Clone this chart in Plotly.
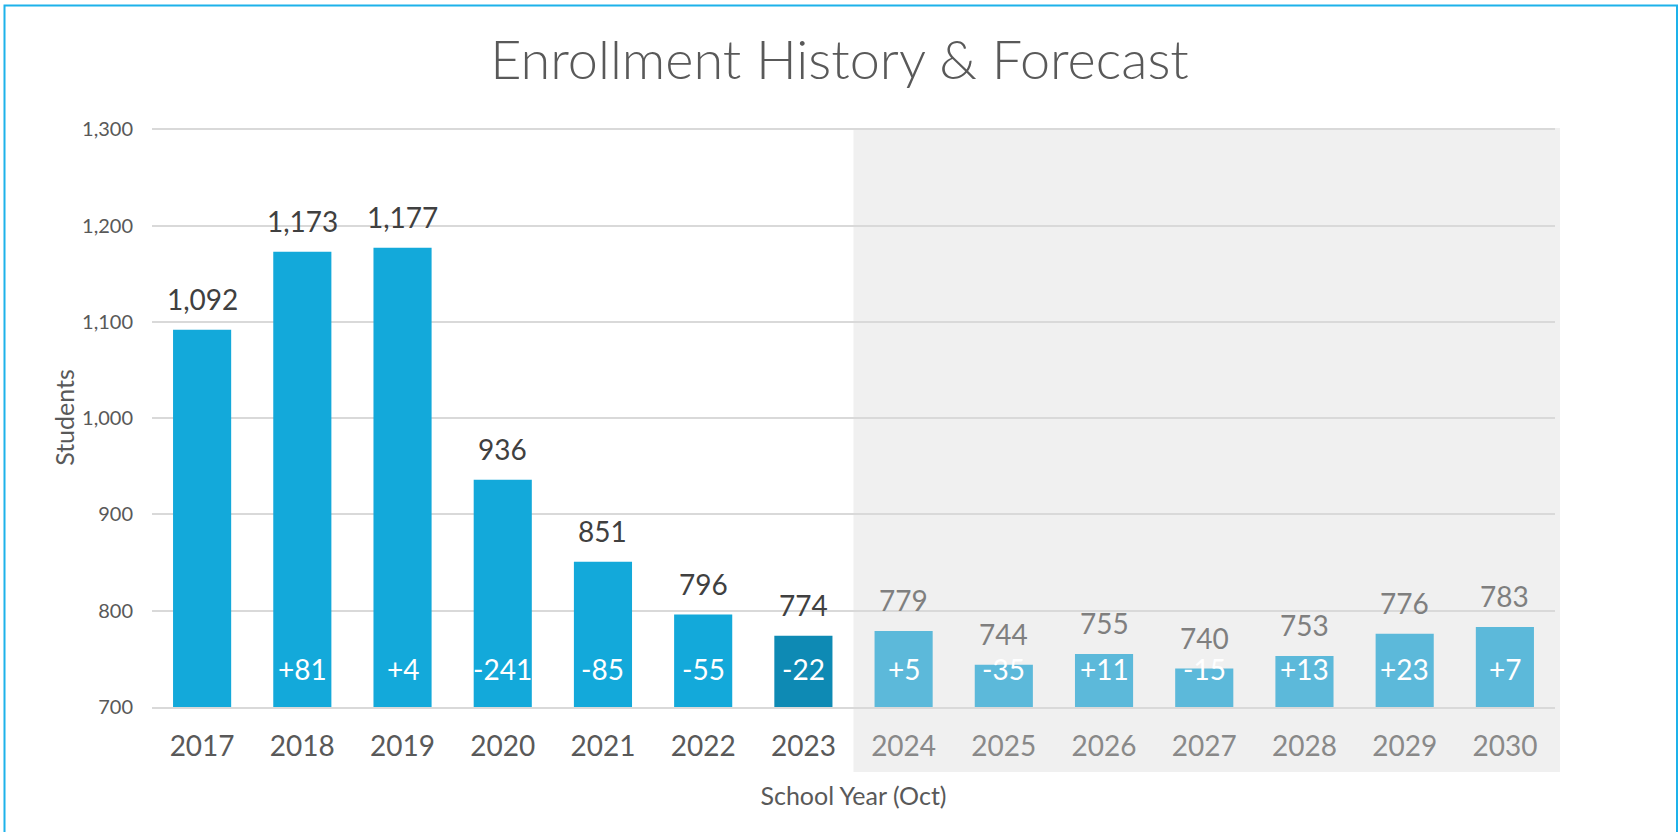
import plotly.graph_objects as go

# ---- data ----
years = ["2017", "2018", "2019", "2020", "2021", "2022", "2023",
         "2024", "2025", "2026", "2027", "2028", "2029", "2030"]
enrollment = [1092, 1173, 1177, 936, 851, 796, 774,
              779, 744, 755, 740, 753, 776, 783]
change_labels = ["", "+81", "+4", "-241", "-85", "-55", "-22",
                 "+5", "-35", "+11", "-15", "+13", "+23", "+7"]
y_tick_values = [700, 800, 900, 1000, 1100, 1200, 1300]
last_actual_year = "2023"

# ---- layout constants ----
W, H = 1679, 832
ML, MR, MT, MB = 152, 124, 127.5, 125
PW, PH = W - ML - MR, H - MT - MB
FONT = "Lato, 'Open Sans', sans-serif"

HIST_COLOR = "#13A9DA"
CURR_COLOR = "#0E8AB4"
FCST_COLOR = "#5CB9DA"
HIST_TEXT = "#404040"
FCST_TEXT = "#7F7F7F"
HIST_TICK = "#595959"
FCST_TICK = "#898989"

n = len(years)
cut = years.index(last_actual_year)
bar_colors = [HIST_COLOR if i < cut else CURR_COLOR if i == cut else FCST_COLOR
              for i in range(n)]
label_colors = [HIST_TEXT if i <= cut else FCST_TEXT for i in range(n)]
tick_texts = [f"<span style='color:{HIST_TICK if i <= cut else FCST_TICK}'>{y}</span>"
              for i, y in enumerate(years)]

fig = go.Figure()
fig.add_trace(go.Bar(
    x=years, y=enrollment,
    marker=dict(color=bar_colors, line=dict(width=0)),
    hovertemplate="%{x}: %{y:,}<extra></extra>",
))

# value labels above bars (x given as category index)
for i, (v, c) in enumerate(zip(enrollment, label_colors)):
    fig.add_annotation(x=i, y=v, xref="x", yref="y", text=f"{v:,}", showarrow=False,
                       yanchor="bottom", yshift=12,
                       font=dict(family=FONT, size=28, color=c))

# year-over-year change labels inside bars
for i, ch in enumerate(change_labels):
    if ch:
        fig.add_annotation(x=i, y=740, xref="x", yref="y", text=ch, showarrow=False,
                           yanchor="middle",
                           font=dict(family=FONT, size=28, color="white"))

# forecast shading
fig.add_shape(type="rect", xref="paper", yref="paper",
              x0=(cut + 1) / n, x1=(1560 - ML) / PW,
              y0=-(772 - (H - MB)) / PH, y1=1,
              fillcolor="#F0F0F0", line=dict(width=0), layer="below")

# outer border
fig.add_shape(type="rect", xref="paper", yref="paper",
              x0=(4.5 - ML) / PW, x1=(1677 - ML) / PW,
              y0=-(850 - (H - MB)) / PH, y1=((H - MB) - 5) / PH,
              fillcolor="rgba(0,0,0,0)", line=dict(color="#1DB2EA", width=2),
              layer="above")

fig.update_layout(
    width=W, height=H,
    margin=dict(l=ML, r=MR, t=MT, b=MB, pad=0),
    paper_bgcolor="white", plot_bgcolor="rgba(0,0,0,0)",
    bargap=0.42, showlegend=False,
    font=dict(family=FONT, color="#595959"),
    title=dict(text="Enrollment History & Forecast", x=0.5, xanchor="center",
               xref="container", yref="container", y=1 - 60 / H, yanchor="middle",
               font=dict(family=FONT, size=54, color="#595959", weight=300)),
    xaxis=dict(
        type="category",
        tickmode="array", tickvals=years, ticktext=tick_texts,
        tickfont=dict(family=FONT, size=28),
        ticklabelstandoff=13,
        showgrid=False, zeroline=False,
        showline=True, linecolor="#D9D9D9", linewidth=2,
        title=dict(text="School Year (Oct)", standoff=27,
                   font=dict(family=FONT, size=25, color="#595959")),
        range=[-0.5, n - 0.5], fixedrange=True,
    ),
    yaxis=dict(
        range=[700, 1301.5], tickvals=y_tick_values, tickformat=",",
        tickfont=dict(family=FONT, size=20, color="#595959"),
        ticklabelstandoff=18,
        showgrid=True, gridcolor="#D9D9D9", gridwidth=2,
        zeroline=False, showline=False,
        title=dict(text="Students", standoff=0,
                   font=dict(family=FONT, size=25, color="#595959")),
    ),
)

fig.write_html("out.html",
               config={"displayModeBar": False},
               post_script="document.body.style.margin='0';document.body.style.overflow='hidden';")
